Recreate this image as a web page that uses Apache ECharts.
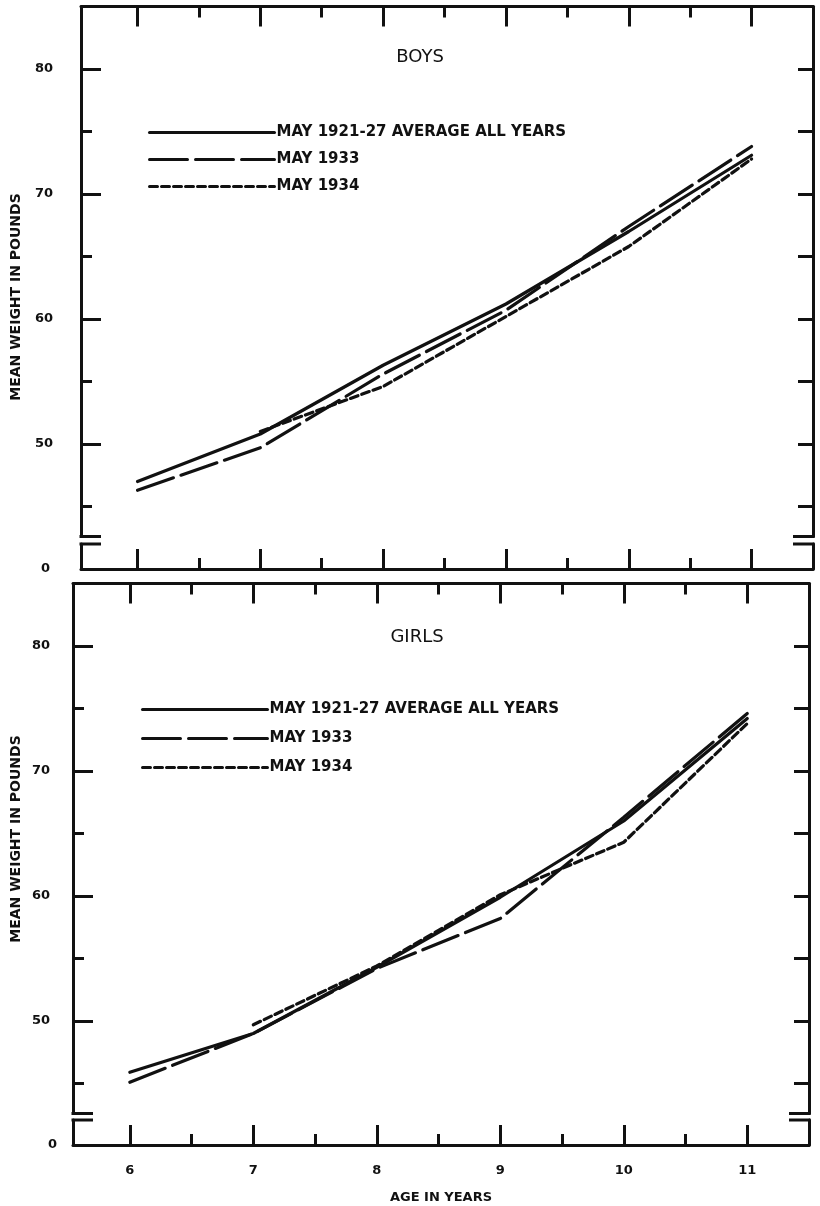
<!DOCTYPE html>
<html>
<head>
<meta charset="utf-8">
<script src="https://cdn.jsdelivr.net/npm/echarts@6/dist/echarts.min.js"></script>
<style>
  html, body { margin: 0; padding: 0; background: #fff; }
  #chart { width: 820px; height: 1206px; }
</style>
</head>
<body>
<div id="chart"></div>
<script>
// data (mean weight in pounds, by age)
const ages = [6, 7, 8, 9, 10, 11];
const boysAverage = [47.0, 50.8, 56.3, 61.2, 67.0, 73.1];
const boys1933 = [46.3, 49.7, 55.6, 60.7, 67.4, 73.8];
const boys1934 = [null, 51.0, 54.6, 60.2, 65.8, 72.8];
const girlsAverage = [45.9, 49.0, 54.3, 59.9, 66.0, 74.2];
const girls1933 = [45.1, 49.0, 54.2, 58.2, 66.3, 74.6];
const girls1934 = [null, 49.7, 54.4, 60.1, 64.3, 73.8];

const seriesNames = ['MAY 1921-27 AVERAGE ALL YEARS', 'MAY 1933', 'MAY 1934'];
const ageTicks = [6, 7, 8, 9, 10, 11];
const ageHalfTicks = [6.5, 7.5, 8.5, 9.5, 10.5];
const weightLabels = [50, 60, 70, 80];
const weightHalfTicks = [45, 55, 65, 75];
const weightAllTicks = [45, 50, 55, 60, 65, 70, 75, 80];

const ink = '#111';
const font = 'DejaVu Sans';
const dashTypes = ['solid', [38, 8], [8, 4]];

// panel layout
const panels = [
  { title: 'BOYS', left: 81, width: 732, top: 6.5, stripTop: 544, titleX: 420, titleY: 57, nameY: 297,
    legendTop: 120, legendLeft: 143, legendGap: 12, labelMargin: 28, zeroMargin: 31, showAges: false,
    series: [boysAverage, boys1933, boys1934] },
  { title: 'GIRLS', left: 73, width: 736, top: 583.5, stripTop: 1120, titleX: 417, titleY: 637, nameY: 839,
    legendTop: 697, legendLeft: 136, legendGap: 14, labelMargin: 23, zeroMargin: 16, showAges: true,
    series: [girlsAverage, girls1933, girls1934] }
];
const yMin = 42.6, yMax = 85, mainHeight = 530, stripHeight = 25;
const xMin = 5.54, xMax = 11.5;

const grid = [], xAxis = [], yAxis = [], series = [], legend = [], graphic = [];

function frameLine() {
  return { show: true, onZero: false, lineStyle: { color: ink, width: 3 } };
}

panels.forEach(function (p) {
  const gMain = grid.length;
  grid.push({ left: p.left, top: p.top, width: p.width, height: mainHeight });
  const gStrip = grid.length;
  grid.push({ left: p.left, top: p.stripTop, width: p.width, height: stripHeight });

  // top edge: major and minor age ticks
  const xTop = xAxis.length;
  xAxis.push({
    gridIndex: gMain, type: 'value', position: 'top', min: xMin, max: xMax,
    axisLine: frameLine(),
    axisTick: { show: true, inside: true, length: 20, customValues: ageTicks, lineStyle: { color: ink, width: 3 } },
    axisLabel: { show: false }, splitLine: { show: false }
  });
  xAxis.push({
    gridIndex: gMain, type: 'value', position: 'top', min: xMin, max: xMax,
    axisLine: { show: false },
    axisTick: { show: true, inside: true, length: 11, customValues: ageHalfTicks, lineStyle: { color: ink, width: 3 } },
    axisLabel: { show: false }, splitLine: { show: false }
  });
  // bottom edge (below the break)
  xAxis.push({
    gridIndex: gStrip, type: 'value', position: 'bottom', min: xMin, max: xMax,
    axisLine: frameLine(),
    axisTick: { show: true, inside: true, length: 20, customValues: ageTicks, lineStyle: { color: ink, width: 3 } },
    axisLabel: { show: p.showAges, customValues: ageTicks, margin: 19, color: ink,
      fontFamily: font, fontWeight: 'bold', fontSize: 13 },
    splitLine: { show: false },
    name: p.showAges ? 'AGE IN YEARS' : '', nameLocation: 'middle', nameGap: 46,
    nameTextStyle: { color: ink, fontFamily: font, fontWeight: 'bold', fontSize: 13 }
  });
  xAxis.push({
    gridIndex: gStrip, type: 'value', position: 'bottom', min: xMin, max: xMax,
    axisLine: { show: false },
    axisTick: { show: true, inside: true, length: 11, customValues: ageHalfTicks, lineStyle: { color: ink, width: 3 } },
    axisLabel: { show: false }, splitLine: { show: false }
  });

  // weight axes
  const yLeft = yAxis.length;
  yAxis.push({
    gridIndex: gMain, type: 'value', position: 'left', min: yMin, max: yMax,
    axisLine: frameLine(),
    axisTick: { show: true, inside: true, length: 20, customValues: weightLabels, lineStyle: { color: ink, width: 3 } },
    axisLabel: { customValues: weightLabels, margin: p.labelMargin, color: ink,
      fontFamily: font, fontWeight: 'bold', fontSize: 13 },
    splitLine: { show: false }
  });
  yAxis.push({
    gridIndex: gMain, type: 'value', position: 'left', min: yMin, max: yMax,
    axisLine: { show: false },
    axisTick: { show: true, inside: true, length: 11, customValues: weightHalfTicks, lineStyle: { color: ink, width: 3 } },
    axisLabel: { show: false }, splitLine: { show: false }
  });
  yAxis.push({
    gridIndex: gMain, type: 'value', position: 'right', min: yMin, max: yMax,
    axisLine: frameLine(),
    axisTick: { show: true, inside: true, length: 15, customValues: weightAllTicks, lineStyle: { color: ink, width: 3 } },
    axisLabel: { show: false }, splitLine: { show: false }
  });
  // strip with the zero
  yAxis.push({
    gridIndex: gStrip, type: 'value', position: 'left', min: 0, max: 2,
    axisLine: frameLine(), axisTick: { show: false },
    axisLabel: { customValues: [0], margin: p.zeroMargin, color: ink,
      fontFamily: font, fontWeight: 'bold', fontSize: 13 },
    splitLine: { show: false }
  });
  yAxis.push({
    gridIndex: gStrip, type: 'value', position: 'right', min: 0, max: 2,
    axisLine: frameLine(), axisTick: { show: false }, axisLabel: { show: false },
    splitLine: { show: false }
  });

  p.series.forEach(function (vals, i) {
    series.push({
      name: seriesNames[i], type: 'line', xAxisIndex: xTop, yAxisIndex: yLeft,
      symbol: 'none', silent: true,
      data: ages.map(function (a, j) { return [a, vals[j]]; }),
      lineStyle: { color: ink, width: 3.2, type: dashTypes[i], cap: 'round' },
      itemStyle: { color: ink }
    });
  });

  legend.push({
    orient: 'vertical', left: p.legendLeft, top: p.legendTop,
    itemWidth: 125, itemHeight: 15, itemGap: p.legendGap, selectedMode: false,
    data: seriesNames.map(function (n, i) {
      return { name: n, lineStyle: { width: 3, type: dashTypes[i], color: ink } };
    }),
    itemStyle: { opacity: 0 },
    textStyle: { color: ink, fontFamily: font, fontWeight: 'bold', fontSize: 15, padding: [0, 0, 0, -3] }
  });

  // panel heading and axis title
  graphic.push({ type: 'text', x: p.titleX, y: p.titleY,
    style: { text: p.title, fill: ink, font: '18px "' + font + '"', textAlign: 'center', textVerticalAlign: 'middle' } });
  graphic.push({ type: 'text', x: 16, y: p.nameY, rotation: Math.PI / 2,
    style: { text: 'MEAN WEIGHT IN POUNDS', fill: ink, font: 'bold 14px "' + font + '"', textAlign: 'center', textVerticalAlign: 'middle' } });

  // scale-break stubs at both sides
  const stub = 20;
  const right = p.left + p.width;
  [p.top + mainHeight, p.stripTop].forEach(function (yy) {
    graphic.push({ type: 'line', shape: { x1: p.left - 1.5, y1: yy, x2: p.left + stub, y2: yy }, style: { stroke: ink, lineWidth: 3 } });
    graphic.push({ type: 'line', shape: { x1: right - stub, y1: yy, x2: right + 1.5, y2: yy }, style: { stroke: ink, lineWidth: 3 } });
  });
});

const chart = echarts.init(document.getElementById('chart'));
chart.setOption({
  backgroundColor: '#fff',
  animation: false,
  grid: grid,
  xAxis: xAxis,
  yAxis: yAxis,
  legend: legend,
  series: series,
  graphic: graphic
});
</script>
</body>
</html>
